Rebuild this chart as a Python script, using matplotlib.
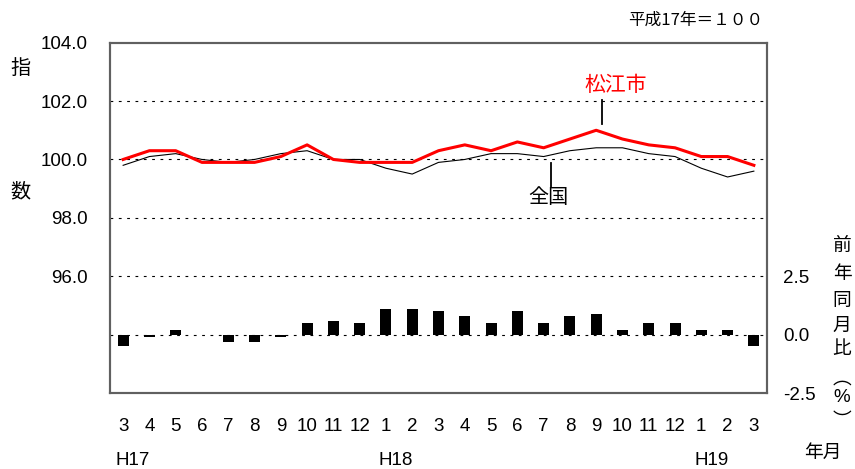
import matplotlib
matplotlib.use("Agg")
import matplotlib.pyplot as plt
import numpy as np

plt.rcParams['font.family'] = ['Liberation Sans', 'Noto Sans CJK JP', 'DejaVu Sans']

months = ["3", "4", "5", "6", "7", "8", "9", "10", "11", "12", "1", "2",
          "3", "4", "5", "6", "7", "8", "9", "10", "11", "12", "1", "2", "3"]
matsue = [100.0, 100.3, 100.3, 99.9, 99.9, 99.9, 100.1, 100.5, 100.0, 99.9, 99.9, 99.9,
          100.3, 100.5, 100.3, 100.6, 100.4, 100.7, 101.0, 100.7, 100.5, 100.4, 100.1, 100.1, 99.8]
zenkoku = [99.8, 100.1, 100.2, 100.0, 99.9, 100.0, 100.2, 100.3, 100.0, 100.0, 99.7, 99.5,
           99.9, 100.0, 100.2, 100.2, 100.1, 100.3, 100.4, 100.4, 100.2, 100.1, 99.7, 99.4, 99.6]
yoy = [-0.5, -0.1, 0.2, 0.0, -0.3, -0.3, -0.1, 0.5, 0.6, 0.5, 1.1, 1.1,
       1.0, 0.8, 0.5, 1.0, 0.5, 0.8, 0.9, 0.2, 0.5, 0.5, 0.2, 0.2, -0.5]
left_ticks = [96.0, 98.0, 100.0, 102.0, 104.0]
right_ticks = [-2.5, 0.0, 2.5]
eras = [("H17", 0), ("H18", 10), ("H19", 22)]

W, H = 855, 469
fig = plt.figure(figsize=(W / 100, H / 100), dpi=100)
ax = fig.add_axes([110 / W, 1 - 393 / H, (767 - 110) / W, (393 - 42.7) / H])
ax2 = ax.twinx()

x = np.arange(len(months))

# grid lines
for g in [94, 96, 98, 100, 102]:
    ax.axhline(g, color='black', lw=0.8, dashes=(2.5, 5), zorder=1)

ax2.bar(x, yoy, width=0.42, color='black', zorder=3)
ax.plot(x, zenkoku, color='black', lw=0.8, zorder=4)
ax.plot(x, matsue, color='#ff0000', lw=2.2, zorder=5)

ax.set_xlim(-0.5, 24.5)
ax.set_ylim(92, 104)
ax2.set_ylim(-2.5, 12.5)
ax.set_zorder(ax2.get_zorder() + 1)
ax.patch.set_visible(False)

ax.set_yticks(left_ticks)
ax.set_yticklabels([f"{v:.1f}" for v in left_ticks])
ax2.set_yticks(right_ticks)
ax2.set_yticklabels([f"{v:.1f}" for v in right_ticks])
ax.set_xticks(x)
ax.set_xticklabels(months)

ax.tick_params(axis='y', length=0, pad=16, labelsize=13.5)
ax2.tick_params(axis='y', length=0, pad=11.5, labelsize=13.5)
ax.tick_params(axis='x', length=0, pad=18, labelsize=13.5)

for a in (ax, ax2):
    for s in a.spines.values():
        s.set_color('#606060')
        s.set_linewidth(1.5)

# annotations
ax.plot([18.23, 18.23], [101.2, 102.02], color='black', lw=1.3, zorder=6)
ax.text(18.76, 102.54, "松江市", color='#ff0000', fontsize=15, ha='center', va='center',
        family=['Noto Sans CJK JP'])
ax.plot([16.28, 16.28], [99.05, 99.87], color='black', lw=1.3, zorder=6)
ax.text(16.2, 98.71, "全国", color='black', fontsize=14.5, ha='center', va='center',
        family=['Noto Sans CJK JP'])

def ft(px, py, s, **kw):
    fig.text(px / W, 1 - py / H, s, **kw)

cjk = ['Noto Sans CJK JP']
ft(20, 68, "指", fontsize=14.5, ha='center', va='center', family=cjk)
ft(20, 192, "数", fontsize=14.5, ha='center', va='center', family=cjk)
ft(763, 20, "平成17年＝１００", fontsize=12, ha='right', va='center', family=cjk)

for ch, py in [("前", 245), ("年", 273), ("同", 300), ("月", 325), ("比", 348),
               ("︵", 378), ("%", 398), ("︶", 420)]:
    fam = ['Liberation Sans'] if ch == "%" else cjk
    ft(842, py, ch, fontsize=13.5, ha='center', va='center', family=fam)
ft(823, 452, "年月", fontsize=13.5, ha='center', va='center', family=cjk)

for lab, idx in eras:
    px = 123 + idx * 26.28 + 10
    ft(px, 460, lab, fontsize=13.5, ha='center', va='center')

fig.savefig("out.png", dpi=100)
